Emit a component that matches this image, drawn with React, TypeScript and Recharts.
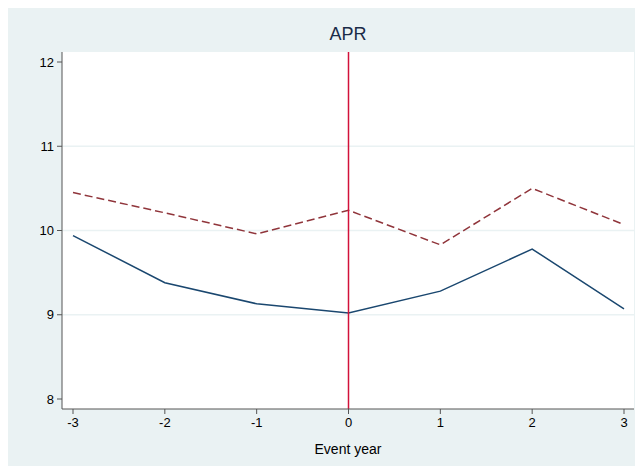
import { LineChart, Line, XAxis, YAxis, ReferenceLine } from 'recharts';

// event years and the two APR series
const years = [-3, -2, -1, 0, 1, 2, 3];
const solidSeries = [9.94, 9.38, 9.13, 9.02, 9.28, 9.78, 9.07];
const dashedSeries = [10.45, 10.21, 9.96, 10.24, 9.83, 10.5, 10.07];
const yTicks = [8, 9, 10, 11, 12];
const gridValues = [9, 10, 11];
const eventLine = 0;

const data = years.map((y, i) => ({ year: y, solid: solidSeries[i], dashed: dashedSeries[i] }));

const BG = '#eaf2f3';
const tickStyle = { fill: '#000', fontSize: 13, fontFamily: '"Liberation Sans", Arial, sans-serif' };

export default function App() {
  return (
    <div style={{ position: 'relative', width: 635, height: 458, background: BG }}>
      <div style={{ position: 'absolute', left: 54, width: 572, top: 16, textAlign: 'center', fontFamily: '"Liberation Sans", Arial, sans-serif', fontSize: 18, color: '#1a2b48' }}>
        APR
      </div>
      <LineChart width={635} height={458} data={data} margin={{ top: 44, right: 9, bottom: 0, left: 0 }}>
        <rect x={54} y={44} width={572} height={357} fill="#fff" />
        <XAxis
          dataKey="year"
          type="number"
          domain={[-3, 3]}
          ticks={years}
          padding={{ left: 11, right: 10 }}
          height={57}
          tick={tickStyle}
          tickSize={5}
          tickMargin={4}
          stroke="#555"
          label={{ value: 'Event year', position: 'insideBottom', offset: 12, style: { ...tickStyle, fontSize: 14 } }}
        />
        <YAxis
          type="number"
          domain={[8, 12]}
          ticks={yTicks}
          padding={{ top: 10, bottom: 10 }}
          width={54}
          tick={tickStyle}
          tickSize={5}
          tickMargin={3}
          stroke="#555"
        />
        {gridValues.map(v => (
          <ReferenceLine key={v} y={v} stroke={BG} strokeWidth={1.5} />
        ))}
        <Line dataKey="dashed" stroke="#90353b" strokeWidth={1.5} strokeDasharray="8 4" dot={false} isAnimationActive={false} />
        <Line dataKey="solid" stroke="#1a476f" strokeWidth={1.5} dot={false} isAnimationActive={false} />
        <ReferenceLine x={eventLine} stroke="#d2113a" strokeWidth={1.5} />
      </LineChart>
    </div>
  );
}
